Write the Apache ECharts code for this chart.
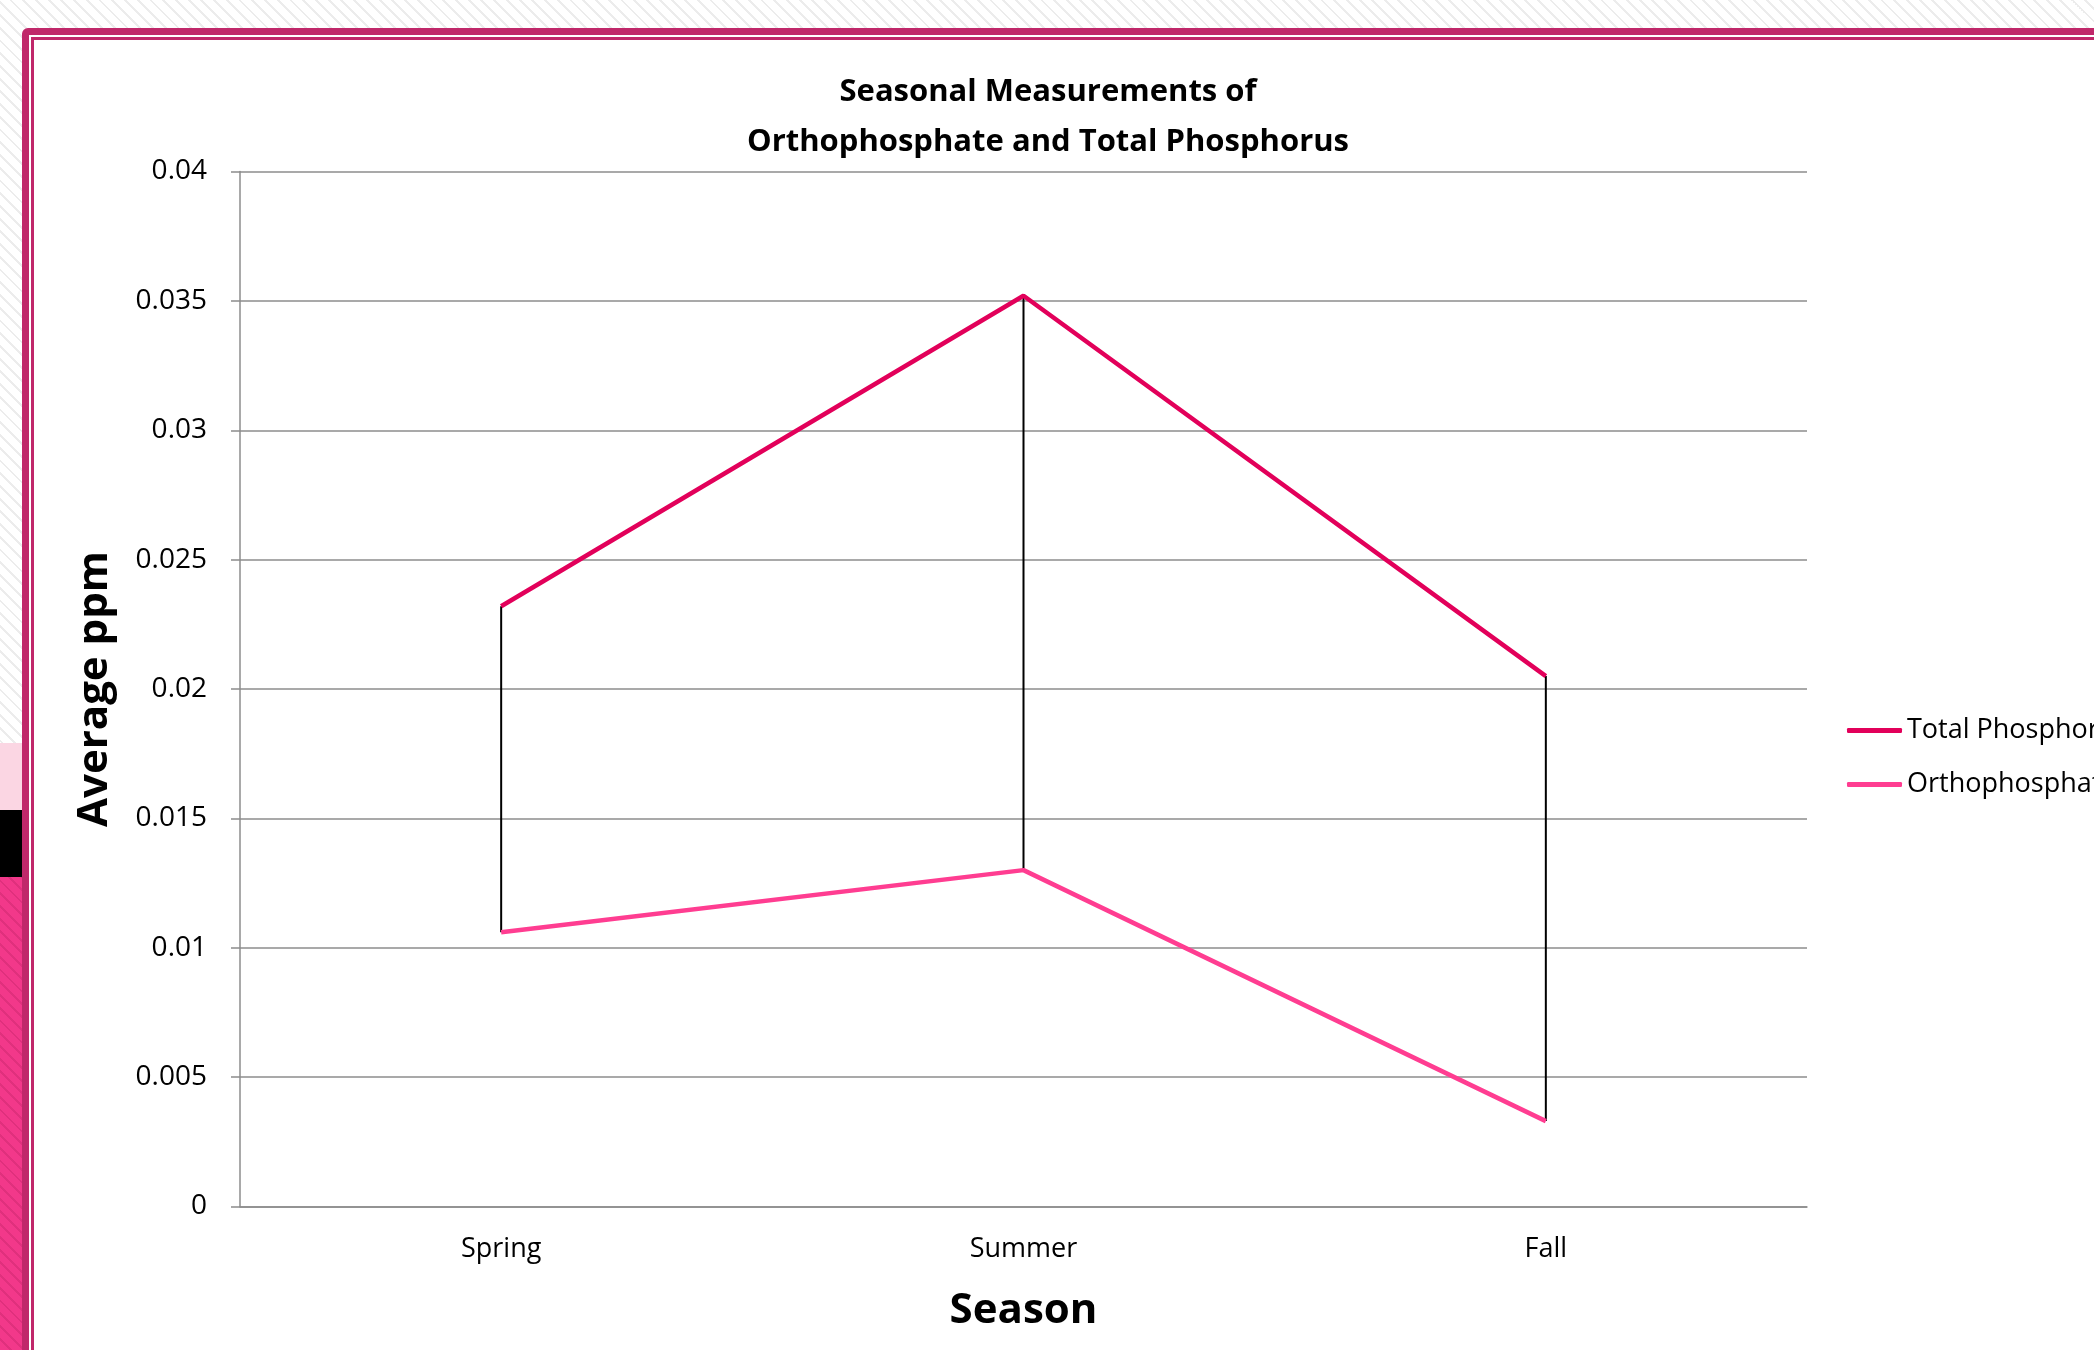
<!DOCTYPE html>
<html>
<head>
<meta charset="utf-8">
<script src="https://cdn.jsdelivr.net/npm/echarts@6/dist/echarts.min.js"></script>
<style>
    html, body { margin: 0; padding: 0; width: 2094px; height: 1350px; overflow: hidden; }
    body {
        position: relative;
        background: repeating-linear-gradient(45deg, #ffffff 0px, #ffffff 7px, #ececec 7px, #ececec 9px);
    }
    .side-light { position: absolute; left: 0; top: 743px; width: 22px; height: 67px; background: #fbd6e3; }
    .side-black { position: absolute; left: 0; top: 810px; width: 22px; height: 67px; background: #000; }
    .side-pink {
        position: absolute; left: 0; top: 877px; width: 22px; bottom: 0;
        background: repeating-linear-gradient(45deg, #f2388a 0px, #f2388a 7px, #e0307d 7px, #e0307d 9px);
    }
    .frame {
        position: absolute; left: 22px; top: 28px; width: 2200px; height: 1400px;
        border: 7px solid #c0286a; border-radius: 6px; background: #fff;
    }
    .frame-inner {
        position: absolute; left: 2px; top: 2px; width: 2200px; height: 1400px;
        border: 3px solid #c0286a; background: #fff;
    }
    #main { position: absolute; left: 0; top: 0; width: 2094px; height: 1350px; }
</style>
</head>
<body>
<div class="side-light"></div>
<div class="side-black"></div>
<div class="side-pink"></div>
<div class="frame"><div class="frame-inner"></div></div>
<div id="main"></div>
<script>
var seasons = ['Spring', 'Summer', 'Fall'];
var totalPhosphorus = [0.0232, 0.0352, 0.0205];
var orthophosphate = [0.0106, 0.0130, 0.0033];

var fontName = '"Open Sans", sans-serif';

// hi-lo lines between the two series
var hiLoData = [];
for (var i = 0; i < seasons.length; i++) {
    hiLoData.push([i, orthophosphate[i], totalPhosphorus[i]]);
}

var chart = echarts.init(document.getElementById('main'));

var option = {
    backgroundColor: 'transparent',
    animation: false,
    textStyle: { fontFamily: fontName },
    title: {
        text: 'Seasonal Measurements of\nOrthophosphate and Total Phosphorus',
        left: 1043,
        top: 62,
        textAlign: 'center',
        textStyle: {
            fontFamily: fontName,
            fontSize: 31,
            fontWeight: 'bold',
            color: '#000',
            lineHeight: 50
        }
    },
    legend: {
        orient: 'vertical',
        left: 1842,
        top: 712,
        itemGap: 27,
        itemWidth: 55,
        itemHeight: 5,
        icon: 'roundRect',
        textStyle: { fontFamily: fontName, fontSize: 27, color: '#000', padding: [0, 0, 0, 0] },
        data: ['Total Phosphorus', 'Orthophosphate']
    },
    grid: {
        left: 240,
        right: 287,
        top: 171.5,
        bottom: 143.5
    },
    xAxis: {
        type: 'category',
        data: seasons,
        boundaryGap: true,
        name: 'Season',
        nameLocation: 'middle',
        nameGap: 84,
        nameTextStyle: { fontFamily: fontName, fontSize: 42, fontWeight: 'bold', color: '#000' },
        axisLine: { lineStyle: { color: '#8c8c8c', width: 1.5 } },
        axisTick: { show: false },
        axisLabel: { fontFamily: fontName, fontSize: 27, color: '#000', margin: 29 }
    },
    yAxis: {
        type: 'value',
        min: 0,
        max: 0.04,
        interval: 0.005,
        name: 'Average ppm',
        nameLocation: 'middle',
        nameGap: 124,
        nameTextStyle: { fontFamily: fontName, fontSize: 42, fontWeight: 'bold', color: '#000' },
        axisLine: { show: true, lineStyle: { color: '#8c8c8c', width: 1.5 } },
        axisTick: { show: true, length: 9, lineStyle: { color: '#8c8c8c', width: 1.5 } },
        axisLabel: { fontFamily: fontName, fontSize: 28, color: '#000', margin: 33, padding: [0, 0, 5, 0] },
        splitLine: { lineStyle: { color: '#8c8c8c', width: 1.5 } }
    },
    series: [{
        name: 'Total Phosphorus',
        type: 'line',
        data: totalPhosphorus,
        symbol: 'none',
        color: '#e2005a',
        lineStyle: { width: 4.5, color: '#e2005a' }
    }, {
        name: 'Orthophosphate',
        type: 'line',
        data: orthophosphate,
        symbol: 'none',
        color: '#ff3d91',
        lineStyle: { width: 4.5, color: '#ff3d91' }
    }, {
        name: 'hilo',
        type: 'custom',
        z: 3,
        data: hiLoData,
        renderItem: function (params, api) {
            var low = api.coord([api.value(0), api.value(1)]);
            var high = api.coord([api.value(0), api.value(2)]);
            return {
                type: 'line',
                shape: { x1: low[0], y1: low[1], x2: high[0], y2: high[1] },
                style: { stroke: '#000', lineWidth: 2 }
            };
        }
    }]
};

chart.setOption(option);
</script>
</body>
</html>
